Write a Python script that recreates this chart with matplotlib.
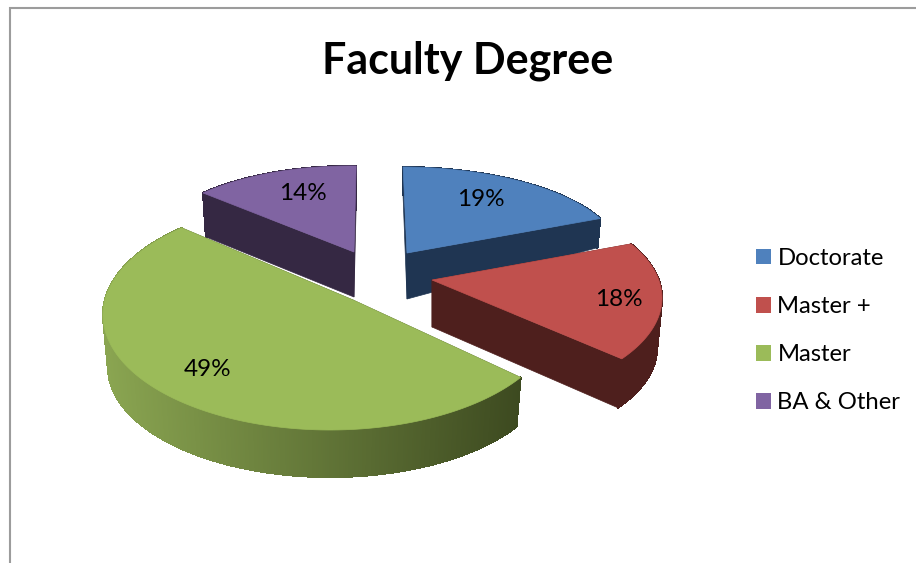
import numpy as np
import matplotlib
matplotlib.use("Agg")
import matplotlib.pyplot as plt
from matplotlib.patches import Polygon, Patch
from matplotlib.collections import PolyCollection
from matplotlib.colors import to_rgb

plt.rcParams['font.family'] = ['Lato', 'DejaVu Sans']

title = "Faculty Degree"
categories = ["Doctorate", "Master +", "Master", "BA & Other"]
values = [19, 18, 49, 14]

top_colors = ["#4F81BD", "#C0504D", "#9BBB59", "#8064A2"]
wall_left = ["#1F3552", "#4E1F1D", "#8AA551", "#352843"]
wall_right = ["#1F3552", "#4E1F1D", "#3D4A20", "#352843"]
face_colors = ["#1F3552", "#4E1F1D", "#3D4A20", "#352843"]

# Projection style of each exploded slice (pseudo-3D look)
apex = [(407, 253), (432, 280), (353, 300), (354, 252)]
apex_drop = [46, 47, 50, 45]
top_ell = [(400, 255, 220, 88), (445, 298, 217, 105), (330, 315, 227, 115), (350, 255, 205, 89)]
bot_ell = [(400, 285, 217, 90), (445, 348, 212, 103), (330, 367, 222, 110), (350, 299, 201, 89)]
ang_off = [0.8, -9.4, -10.3, 4.6]
ang_gain = [0.946, 1.025, 1.113, 0.943]
label_xy = [(481, 199), (619, 299), (208, 369), (303, 193)]
draw_order = [3, 0, 1, 2]

fig = plt.figure(figsize=(9.16, 5.63), dpi=100)
ax = fig.add_axes([0, 0, 1, 1])
ax.set_xlim(0, 916)
ax.set_ylim(563, 0)
ax.axis("off")

# chart frame
ax.plot([9.5, 9.5, 916], [563, 7.5, 7.5], color="#9C9C9C", lw=1.5, solid_capstyle="butt", solid_joinstyle="miter")


def arc(ell, t):
    cx, cy, rx, ry = ell
    return np.column_stack([cx + rx * np.sin(t), cy - ry * np.cos(t)])


edges = np.concatenate([[0], np.cumsum(values)]) / sum(values) * 360.0

for i in draw_order:
    a0 = edges[i]
    a1 = edges[i + 1]
    t0 = a0 + ang_off[i]
    t = np.radians(np.linspace(t0, t0 + (a1 - a0) * ang_gain[i], 400))
    top = arc(top_ell[i], t)
    bot = arc(bot_ell[i], t)
    ap = np.array(apex[i], float)
    ap_b = ap + [0, apex_drop[i]]

    # cut faces
    for k in (0, -1):
        ax.add_patch(Polygon([ap, top[k], bot[k], ap_b], closed=True,
                             fc=face_colors[i], ec=face_colors[i], lw=0.5))

    # outer wall, shaded left to right
    quads = [[top[j], top[j + 1], bot[j + 1], bot[j]] for j in range(len(t) - 1)]
    mids = np.array([q[0][0] for q in quads])
    f = np.clip((mids - 103) / (520 - 103), 0, 1)[:, None]
    cols = (1 - f) * np.array(to_rgb(wall_left[i])) + f * np.array(to_rgb(wall_right[i]))
    ax.add_collection(PolyCollection(quads, facecolors=cols, edgecolors=cols, linewidths=0.8,
                                     antialiaseds=False))

    # top surface
    ax.add_patch(Polygon(np.vstack([ap, top]), closed=True, fc=top_colors[i], ec=top_colors[i], lw=0.5))

for i, (x, y) in enumerate(label_xy):
    ax.text(x, y, f"{values[i]}%", ha="center", va="center", fontsize=17.5, color="black")

ax.text(468, 61, title, ha="center", va="center", fontsize=31, fontweight="bold", color="black")

fs = 17.2
handles = [Patch(fc=c, ec="none", label=n) for c, n in zip(top_colors, categories)]
leg = ax.legend(handles=handles, loc="upper left", bbox_to_anchor=(756 / 916, 1 - 248 / 563),
                frameon=False, fontsize=fs, borderaxespad=0, borderpad=0,
                handlelength=10.8 / fs, handleheight=10.8 / fs, handletextpad=0.27,
                labelspacing=1.135)

fig.savefig("out.png", dpi=100)
